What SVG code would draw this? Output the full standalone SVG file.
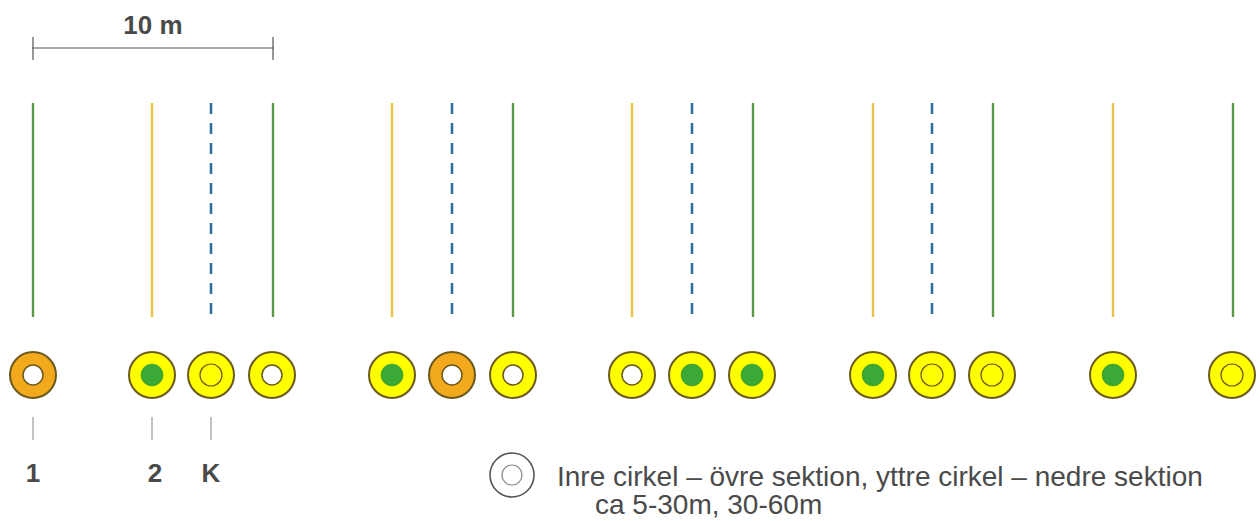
<svg xmlns="http://www.w3.org/2000/svg" width="1260" height="521" viewBox="0 0 1260 521">
<style>
.lbl{font-family:"Liberation Sans",Arial,sans-serif;font-weight:bold;fill:#4a4a4a;text-anchor:middle}
.leg{font-family:"Liberation Sans",Arial,sans-serif;fill:#4a4a4a;font-size:28px}
.g{stroke:#5a9a46;stroke-width:2.4}
.y{stroke:#e8c24a;stroke-width:2.4}
.b{stroke:#2f6f9a;stroke-width:2.6;stroke-dasharray:11 9}
.oy{fill:#ffff00;stroke:#6b5a1e;stroke-width:2}
.oo{fill:#f2a91c;stroke:#6b5a1e;stroke-width:2}
.iw{fill:#ffffff;stroke:#6b5a1e;stroke-width:1.5}
.ig{fill:#3aa935;stroke:#3a8a2a;stroke-width:0.5}
.iy{fill:#ffff00;stroke:#6b5a1e;stroke-width:1.2}
.tk{stroke:#999;stroke-width:1.2}
</style>
<rect width="1260" height="521" fill="#ffffff"/>
<g id="scale">
<line x1="32" y1="48" x2="274" y2="48" stroke="#555" stroke-width="1.2"/>
<line x1="33" y1="37" x2="33" y2="60" stroke="#555" stroke-width="1.2"/>
<line x1="273" y1="37" x2="273" y2="60" stroke="#555" stroke-width="1.2"/>
<text class="lbl" x="153" y="34" font-size="26">10 m</text>
</g>
<g id="connectors">
<line class="g" x1="33" y1="103" x2="33" y2="317"/>
<line class="y" x1="152" y1="103" x2="152" y2="317"/>
<line class="b" x1="211" y1="103" x2="211" y2="317"/>
<line class="g" x1="273" y1="103" x2="273" y2="317"/>
<line class="y" x1="392" y1="103" x2="392" y2="317"/>
<line class="b" x1="452" y1="103" x2="452" y2="317"/>
<line class="g" x1="513" y1="103" x2="513" y2="317"/>
<line class="y" x1="632" y1="103" x2="632" y2="317"/>
<line class="b" x1="692" y1="103" x2="692" y2="317"/>
<line class="g" x1="753" y1="103" x2="753" y2="317"/>
<line class="y" x1="873" y1="103" x2="873" y2="317"/>
<line class="b" x1="932" y1="103" x2="932" y2="317"/>
<line class="g" x1="993" y1="103" x2="993" y2="317"/>
<line class="y" x1="1113" y1="103" x2="1113" y2="317"/>
<line class="g" x1="1233" y1="103" x2="1233" y2="317"/>
<line class="tk" x1="33" y1="417" x2="33" y2="440"/>
<line class="tk" x1="152" y1="417" x2="152" y2="440"/>
<line class="tk" x1="211" y1="417" x2="211" y2="440"/>
</g>
<g id="n1"><circle class="oo" cx="33" cy="375" r="23"/><circle class="iw" cx="33" cy="375" r="10"/></g>
<g id="n2"><circle class="oy" cx="152" cy="375" r="23"/><circle class="ig" cx="152" cy="375" r="11"/></g>
<g id="n3"><circle class="oy" cx="211" cy="375" r="23"/><circle class="iy" cx="211" cy="375" r="11"/></g>
<g id="n4"><circle class="oy" cx="272" cy="375" r="23"/><circle class="iw" cx="272" cy="375" r="10"/></g>
<g id="n5"><circle class="oy" cx="392" cy="375" r="23"/><circle class="ig" cx="392" cy="375" r="11"/></g>
<g id="n6"><circle class="oo" cx="452" cy="375" r="23"/><circle class="iw" cx="452" cy="375" r="10"/></g>
<g id="n7"><circle class="oy" cx="513" cy="375" r="23"/><circle class="iw" cx="513" cy="375" r="10"/></g>
<g id="n8"><circle class="oy" cx="632" cy="375" r="23"/><circle class="iw" cx="632" cy="375" r="10"/></g>
<g id="n9"><circle class="oy" cx="692" cy="375" r="23"/><circle class="ig" cx="692" cy="375" r="11"/></g>
<g id="n10"><circle class="oy" cx="752" cy="375" r="23"/><circle class="ig" cx="752" cy="375" r="11"/></g>
<g id="n11"><circle class="oy" cx="873" cy="375" r="23"/><circle class="ig" cx="873" cy="375" r="11"/></g>
<g id="n12"><circle class="oy" cx="932" cy="375" r="23"/><circle class="iy" cx="932" cy="375" r="11"/></g>
<g id="n13"><circle class="oy" cx="992" cy="375" r="23"/><circle class="iy" cx="992" cy="375" r="11"/></g>
<g id="n14"><circle class="oy" cx="1113" cy="375" r="23"/><circle class="ig" cx="1113" cy="375" r="11"/></g>
<g id="n15"><circle class="oy" cx="1232" cy="375" r="23"/><circle class="iy" cx="1232" cy="375" r="11"/></g>
<g id="labels">
<text class="lbl" x="33" y="482" font-size="26">1</text>
<text class="lbl" x="155" y="482" font-size="26">2</text>
<text class="lbl" x="211" y="482" font-size="26">K</text>
</g>
<g id="legend">
<circle cx="512" cy="475" r="22" fill="#fff" stroke="#555" stroke-width="1.6"/>
<circle cx="512" cy="475" r="10" fill="#fff" stroke="#888" stroke-width="1.2"/>
<text class="leg" x="557" y="486">Inre cirkel – övre sektion, yttre cirkel – nedre sektion</text>
<text class="leg" x="595" y="514">ca 5-30m, 30-60m</text>
</g>
</svg>
